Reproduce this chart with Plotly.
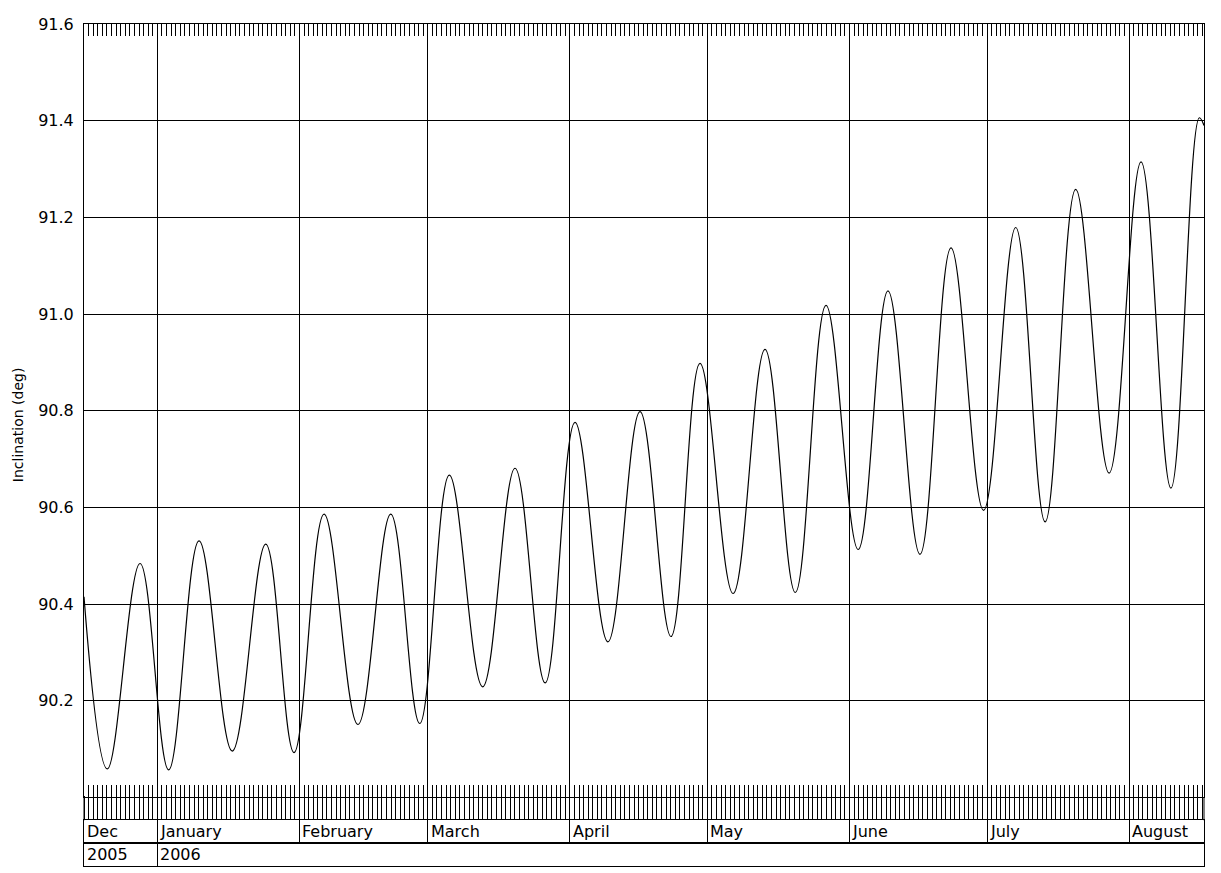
"""Inclination time series, IDL-style date axis with month / year rows."""

import plotly.graph_objects as go

# extrema (date, inclination in deg)
dates = [
    "2005-12-16 00:00", "2005-12-21 02:00", "2005-12-28 05:30",
    "2006-01-03 11:15", "2006-01-10 02:25", "2006-01-17 08:10",
    "2006-01-24 15:35", "2006-01-30 19:40", "2006-02-06 08:55",
    "2006-02-13 18:15", "2006-02-20 22:05", "2006-02-27 05:45",
    "2006-03-05 16:50", "2006-03-12 23:15", "2006-03-20 00:45",
    "2006-03-26 14:25", "2006-04-02 02:55", "2006-04-09 07:10",
    "2006-04-16 07:10", "2006-04-23 01:25", "2006-04-29 09:20",
    "2006-05-06 14:40", "2006-05-13 13:40", "2006-05-20 04:20",
    "2006-05-26 21:05", "2006-06-02 21:35", "2006-06-09 09:35",
    "2006-06-16 09:05", "2006-06-23 03:35", "2006-06-30 06:15",
    "2006-07-07 06:15", "2006-07-13 16:20", "2006-07-20 08:25",
    "2006-07-27 15:20", "2006-08-03 14:25", "2006-08-10 02:55",
    "2006-08-16 07:25", "2006-08-17 08:10",
]
inclination = [
    90.415, 90.059, 90.484,
    90.057, 90.531, 90.096,
    90.524, 90.093, 90.586,
    90.151, 90.586, 90.153,
    90.667, 90.229, 90.681,
    90.237, 90.776, 90.322,
    90.798, 90.333, 90.898,
    90.422, 90.927, 90.424,
    91.018, 90.513, 91.048,
    90.503, 91.137, 90.594,
    91.179, 90.570, 91.258,
    90.671, 91.315, 90.640,
    91.406, 91.390,
]

x_range = ["2005-12-16 00:00", "2006-08-17 08:10"]
month_starts = ["2006-01-01", "2006-02-01", "2006-03-01", "2006-04-01",
                "2006-05-01", "2006-06-01", "2006-07-01", "2006-08-01"]
month_names = ["Dec", "January", "February", "March", "April",
               "May", "June", "July", "August"]
year_starts = ["2006-01-01"]
year_names = ["2005", "2006"]
y_ticks = [90.2, 90.4, 90.6, 90.8, 91.0, 91.2, 91.4, 91.6]

FONT = "DejaVu Sans"
DAY_MS = 86400000

# plot area spans 848 px: main panel 779, tick strip 23, month row 23, year row 23
H = 848
d_year = [0, 23 / H]
d_month = [23 / H, 46 / H]
d_main = [69 / H, 1]

fig = go.Figure()
fig.add_trace(go.Scatter(
    x=dates, y=inclination, mode="lines",
    line=dict(color="black", width=1.2, shape="spline", smoothing=1.1),
    hoverinfo="x+y",
))

x_common = dict(type="date", range=x_range, showticklabels=False,
                zeroline=False, fixedrange=True,
                showline=True, linecolor="black", linewidth=1)
row_y = dict(range=[0, 1], showticklabels=False, showgrid=False,
             zeroline=False, ticks="", fixedrange=True,
             showline=True, linecolor="black", linewidth=1, mirror=True)
day_ticks = dict(tick0=x_range[0], dtick=DAY_MS, tickcolor="black",
                 tickwidth=1, showgrid=False)

fig.update_layout(
    width=1213, height=865,
    margin=dict(l=76, r=17, t=10, b=7),
    plot_bgcolor="white", paper_bgcolor="white",
    showlegend=False,
    font=dict(family=FONT, color="black", size=16),
    # main panel: month grid + daily inside ticks top and bottom
    xaxis=dict(**x_common, anchor="y", mirror="ticks",
               tickvals=month_starts, showgrid=True,
               gridcolor="black", gridwidth=1,
               ticks="inside", ticklen=12, tickcolor="black", tickwidth=1,
               minor=dict(**day_ticks, ticks="inside", ticklen=12)),
    yaxis=dict(domain=d_main, range=[90.0, 91.6], tickvals=y_ticks,
               ticktext=[f"{v:.1f}" for v in y_ticks],
               showgrid=True, gridcolor="black", gridwidth=1,
               zeroline=False, showline=True, linecolor="black",
               linewidth=1, mirror=True, ticks="", ticklabelstandoff=6,
               tickfont=dict(family=FONT, size=16), fixedrange=True),
    # month row; its top side carries the strip of long daily ticks
    xaxis3=dict(**x_common, anchor="y3", matches="x", side="top",
                mirror=True, tickvals=month_starts,
                ticks="outside", ticklen=23, tickcolor="black", tickwidth=1,
                showgrid=True, gridcolor="black", gridwidth=1,
                minor=dict(**day_ticks, ticks="outside", ticklen=23)),
    yaxis3=dict(**row_y, domain=d_month, anchor="x3"),
    # year row
    xaxis4=dict(**x_common, anchor="y4", matches="x", mirror=True,
                tickvals=year_starts, ticks="",
                showgrid=True, gridcolor="black", gridwidth=1),
    yaxis4=dict(**row_y, domain=d_year, anchor="x4"),
)

# outer borders of the tick strip
line = dict(color="black", width=1)
fig.update_layout(shapes=[
    dict(type="line", xref="paper", yref="paper", x0=xx, x1=xx,
         y0=d_month[1], y1=d_main[0], line=line)
    for xx in (0, 1)
])

annotations = []
for pos, name in zip([x_range[0]] + month_starts, month_names):
    annotations.append(dict(x=pos, xref="x3", y=0.5, yref="y3 domain",
                            text=name, showarrow=False,
                            xanchor="left", yanchor="middle", xshift=1))
for pos, name in zip([x_range[0]] + year_starts, year_names):
    annotations.append(dict(x=pos, xref="x4", y=0.5, yref="y4 domain",
                            text=name, showarrow=False,
                            xanchor="left", yanchor="middle", xshift=1))
annotations.append(dict(x=-66 / 1120, xref="paper", y=(779 - 404) / 779,
                        yref="y domain", text="Inclination (deg)",
                        textangle=-90, showarrow=False,
                        xanchor="center", yanchor="middle",
                        font=dict(family=FONT, size=14)))
fig.update_layout(annotations=annotations)

fig.write_html("out.html")
